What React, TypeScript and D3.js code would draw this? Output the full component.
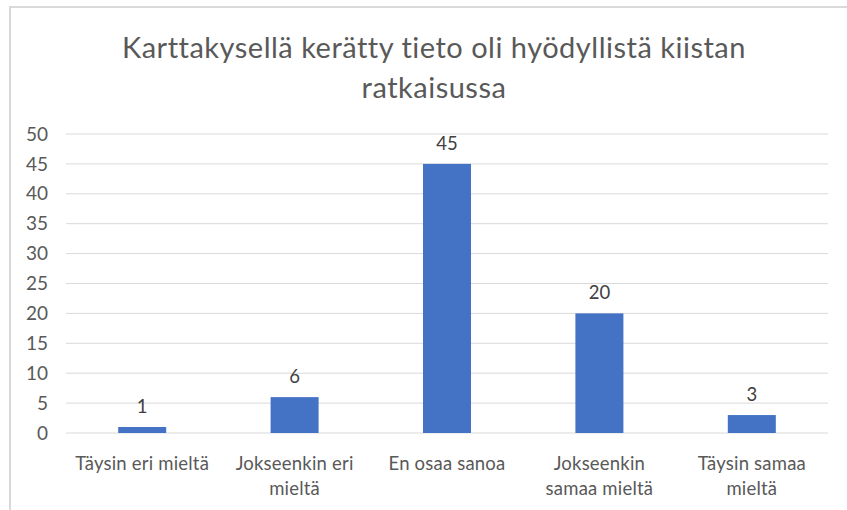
import * as d3 from 'd3'
import React from 'react'

const categories = [
  ['Täysin eri mieltä'],
  ['Jokseenkin eri', 'mieltä'],
  ['En osaa sanoa'],
  ['Jokseenkin', 'samaa mieltä'],
  ['Täysin samaa', 'mieltä'],
]
const values = [1, 6, 45, 20, 3]
const yTicks = [0, 5, 10, 15, 20, 25, 30, 35, 40, 45, 50]
const titleLines = ['Karttakysellä kerätty tieto oli hyödyllistä kiistan', 'ratkaisussa']

export default function App() {
  const ref = React.useRef<SVGSVGElement>(null)
  const width = 847
  const height = 510

  React.useEffect(() => {
    const svg = d3.select(ref.current)
    svg.selectAll('*').remove()
    const font = 'Lato, "Open Sans", sans-serif'
    const grey = '#595959'

    // chart frame (only top/left edge visible in the crop)
    svg.append('rect')
      .attr('x', 10).attr('y', 7)
      .attr('width', width + 20).attr('height', height + 20)
      .attr('fill', 'white')
      .attr('stroke', '#d9d9d9').attr('stroke-width', 2)

    const x = d3.scaleBand<number>()
      .domain(d3.range(values.length))
      .range([66, 828])
      .paddingInner(0.685)
      .paddingOuter(0.3425)
    const y = d3.scaleLinear().domain([0, 50]).range([433, 134])

    svg.append('g').selectAll('text')
      .data(titleLines)
      .enter().append('text')
      .attr('x', 434)
      .attr('y', (d, i) => 58 + i * 40)
      .attr('text-anchor', 'middle')
      .attr('font-family', font)
      .attr('font-size', 29)
      .attr('letter-spacing', 0.5)
      .attr('fill', grey)
      .text(d => d)

    svg.append('g').selectAll('line')
      .data(yTicks)
      .enter().append('line')
      .attr('x1', 66).attr('x2', 828)
      .attr('y1', d => y(d)).attr('y2', d => y(d))
      .attr('stroke', '#d9d9d9')
      .attr('stroke-width', 1)

    svg.append('g').selectAll('text')
      .data(yTicks)
      .enter().append('text')
      .attr('x', 48)
      .attr('y', d => y(d))
      .attr('dy', '0.35em')
      .attr('text-anchor', 'end')
      .attr('font-family', font)
      .attr('font-size', 19)
      .attr('fill', grey)
      .text(d => d)

    svg.append('g').selectAll('rect')
      .data(values)
      .enter().append('rect')
      .attr('x', (d, i) => x(i)!)
      .attr('width', x.bandwidth())
      .attr('y', d => y(d))
      .attr('height', d => y(0) - y(d))
      .attr('fill', '#4472c4')

    svg.append('g').selectAll('text')
      .data(values)
      .enter().append('text')
      .attr('x', (d, i) => x(i)! + x.bandwidth() / 2)
      .attr('y', d => y(d) - 14)
      .attr('text-anchor', 'middle')
      .attr('font-family', font)
      .attr('font-size', 18.5)
      .attr('fill', '#404040')
      .text(d => d)

    const xl = svg.append('g').selectAll('text')
      .data(categories)
      .enter().append('text')
      .attr('text-anchor', 'middle')
      .attr('font-family', font)
      .attr('font-size', 18.5)
      .attr('letter-spacing', 0.2)
      .attr('fill', grey)
    xl.each(function (d, i) {
      const cx = x(i)! + x.bandwidth() / 2
      d3.select(this).selectAll('tspan')
        .data(d)
        .enter().append('tspan')
        .attr('x', cx)
        .attr('y', (t, j) => 470 + j * 25)
        .text(t => t)
    })
  }, [])

  return (
    <svg ref={ref} width={width} height={height}
      style={{ position: 'absolute', left: 0, top: 0, background: 'white' }} />
  )
}
